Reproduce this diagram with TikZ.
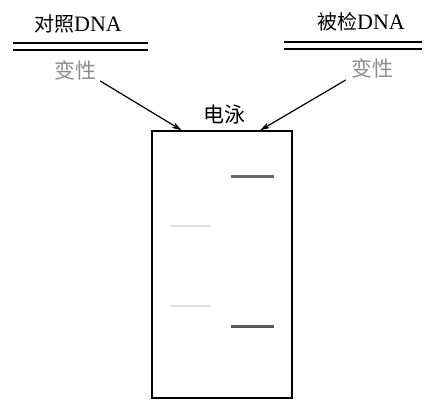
\documentclass[tikz,border=0pt]{standalone}
\usepackage{fontspec}
\setmainfont{Liberation Serif}
\newfontfamily\cjk{Noto Sans CJK SC}
\usepackage{tikz}
\usetikzlibrary{arrows.meta, positioning, calc}

\begin{document}
\begin{tikzpicture}[x=1pt, y=-1pt, >={Stealth[length=10pt, width=6pt]}]
		\useasboundingbox (0,0) rectangle (430,399);
		% --- Brins d'ADN (en haut) ---
		\node[inner sep=0pt, font=\fontsize{20}{20}\selectfont] (ref) at (78,24) {{\cjk 对照}\fontsize{22}{22}\selectfont DNA};
		\node[inner sep=0pt, font=\fontsize{20}{20}\selectfont] (test) at (361,22) {{\cjk 被检}\fontsize{22}{22}\selectfont DNA};
		\draw[line width=1.8pt] (13,43) -- (148,43);
		\draw[line width=1.8pt] (13,50) -- (148,50);
		\draw[line width=1.8pt] (284,42) -- (422,42);
		\draw[line width=1.8pt] (284,49) -- (422,49);
		
		% --- Dénaturation ---
		\node[inner sep=0pt, text=black!45, font=\cjk\fontsize{21}{21}\selectfont] (den_ref) at (75,70) {变性};
		\node[inner sep=0pt, text=black!45, font=\cjk\fontsize{21}{21}\selectfont] (den_test) at (372,68) {变性};
		
		% --- Gel d'électrophorèse ---
		\node[rectangle, draw, line width=1.4pt, inner sep=0pt, minimum width=140pt, minimum height=267pt] (gel) at (222,264.5) {};
		\node[inner sep=0pt, font=\cjk\fontsize{21}{21}\selectfont] (elec) at (224,115) {电泳};
		\coordinate (in_ref) at ($(gel.north west)!0.215!(gel.north east)$);
		\coordinate (in_test) at ($(gel.north west)!0.77!(gel.north east)$);
		
		% --- Flèches vers le gel ---
		\draw[->, line width=1.2pt] (den_ref.south east) ++(4,1) -- (in_ref);
		\draw[->, line width=1.2pt] (den_test.south west) ++(-5,2) -- (in_test);
		
		% --- Bandes ---
		\fill[black!60] (231,174.5) rectangle (274,177.5);
		\fill[black!65] (231,324.5) rectangle (274,327.5);
		\fill[black!12] (170,225) rectangle (211,227);
		\fill[black!12] (170,305) rectangle (211,307);
		
	\end{tikzpicture}
\end{document}
